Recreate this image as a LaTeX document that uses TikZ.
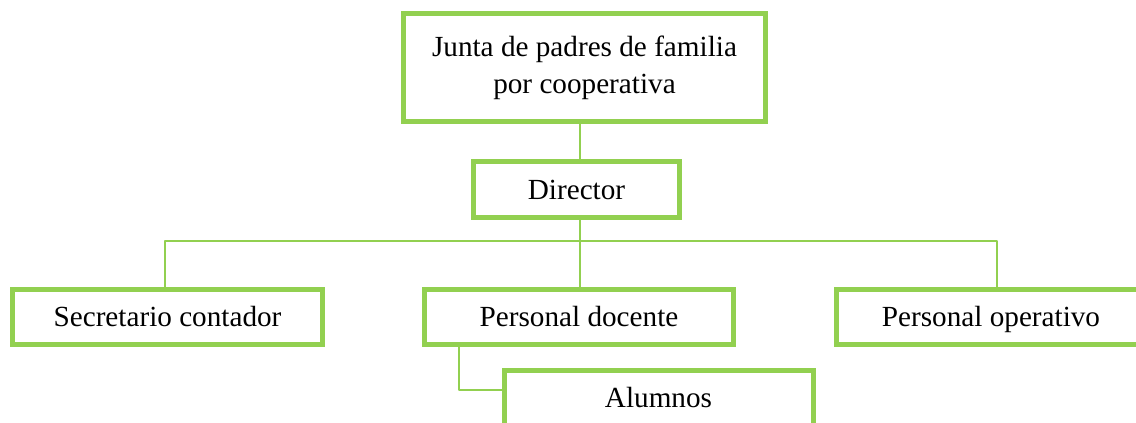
\documentclass[tikz,border=0pt]{standalone}
\usepackage{fontspec}
\setmainfont{Liberation Serif}
\tikzset{
  cargo/.style={draw=boxColor,line width=2.5pt,fill=white,inner sep=0pt,
    align=center,font=\fontsize{14.6}{18.5}\selectfont},
  linea/.style={text height=9.7pt,text depth=0pt},
  enlace/.style={draw=boxColor,line width=1.4pt,line join=round}
}
\begin{document}
\begin{tikzpicture}[x=0.5pt,y=-0.5pt]
\definecolor{boxColor}{RGB}{146,208,80}
\path[use as bounding box,fill=white] (0,0) rectangle (1136,423);
\begin{scope}
\path[clip] (0,0) rectangle (1136,423);

\coordinate (busL) at (165,241);
\coordinate (busM) at (580,241);
\coordinate (busR) at (997,241);
\coordinate (codo) at (459,390);

\node[cargo,minimum width=181pt,minimum height=54pt] (junta) at (584.5, 67.5) {Junta de padres de familia\\por cooperativa};

\node[cargo,linea,minimum width=103pt,minimum height=28pt] (director) at (576.5,189.5) {Director};

\node[cargo,linea,minimum width=155pt,minimum height=27.5pt] (secretario) at (167.5,317) {Secretario contador};

\node[cargo,linea,minimum width=154.5pt,minimum height=27.5pt] (docente) at (579,317) {Personal docente};

\node[cargo,linea,minimum width=154.5pt,minimum height=27.5pt] (operativo) at (991,317) {Personal operativo};

\node[cargo,linea,minimum width=154.5pt,minimum height=28pt] (alumnos) at (658.5,398) {Alumnos};

\draw[enlace] (junta.south -| busM) -- (director.north -| busM);
\draw[enlace] (director.south -| busM) -- (busM);
\draw[enlace] (secretario.north -| busL) -- (busL) -- (busR) -- (operativo.north -| busR);
\draw[enlace] (busM) -- (docente.north -| busM);
\draw[enlace] (docente.south -| codo) -- (codo) -- (codo -| alumnos.west);
\end{scope}
\end{tikzpicture}
\end{document}
